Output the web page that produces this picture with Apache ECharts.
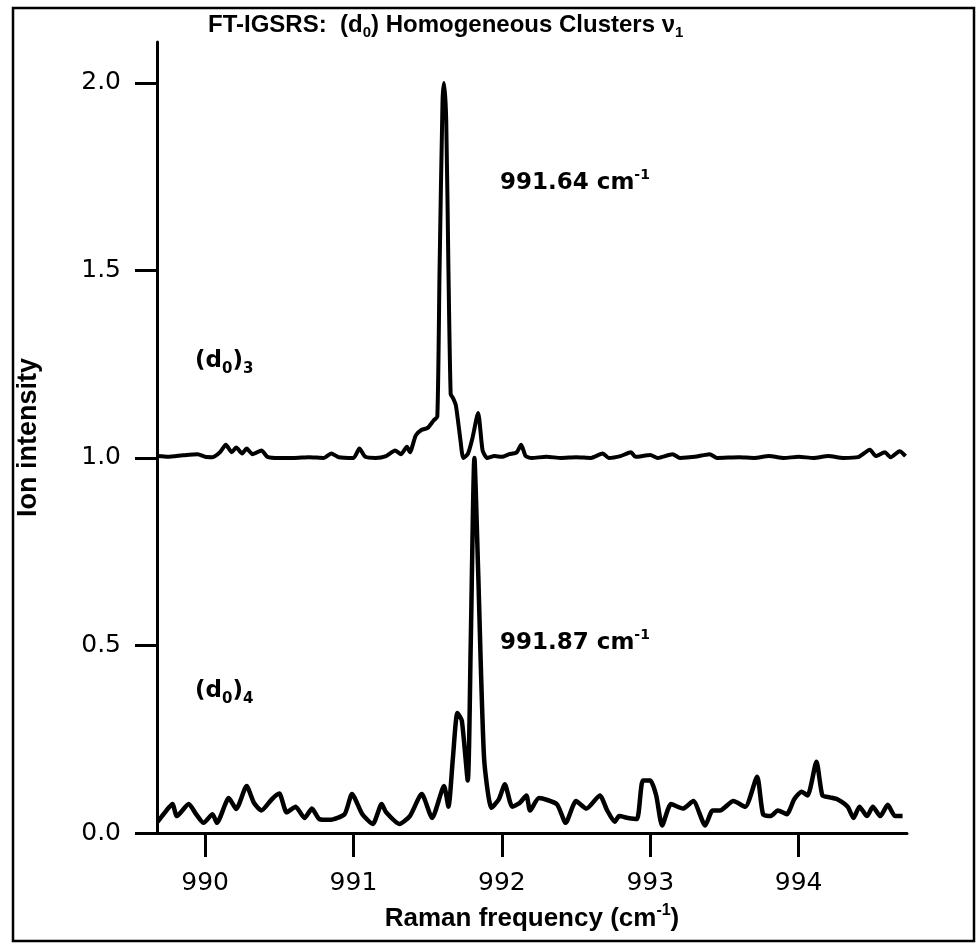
<!DOCTYPE html>
<html>
<head>
<meta charset="utf-8">
<script src="https://cdn.jsdelivr.net/npm/echarts@6/dist/echarts.min.js"></script>
<style>html,body{margin:0;padding:0;background:#fff;}#c{width:979px;height:946px;}</style>
</head>
<body>
<div id="c"></div>
<script>
// ---- data ----
const xTicks = [990, 991, 992, 993, 994];
const yTicks = [0, 0.5, 1.0, 1.5, 2.0];

// (d0)3 trace, offset to 1.0
const topX = [989.68, 989.75, 989.85, 989.95, 990.00, 990.05, 990.10, 990.14, 990.18, 990.21, 990.25, 990.28, 990.32, 990.38, 990.42, 990.50, 990.60, 990.70, 990.80, 990.85, 990.90, 991.00, 991.04, 991.08, 991.15, 991.22, 991.28, 991.32, 991.36, 991.38, 991.42, 991.46, 991.50, 991.54, 991.565, 991.58, 991.60, 991.61, 991.625, 991.64, 991.655, 991.67, 991.69, 991.72, 991.74, 991.77, 991.80, 991.84, 991.87, 991.90, 991.95, 992.00, 992.05, 992.10, 992.13, 992.16, 992.20, 992.30, 992.40, 992.50, 992.60, 992.68, 992.72, 992.80, 992.87, 992.90, 993.00, 993.05, 993.15, 993.20, 993.30, 993.40, 993.45, 993.60, 993.70, 993.80, 993.90, 994.00, 994.10, 994.20, 994.30, 994.40, 994.48, 994.52, 994.58, 994.62, 994.68, 994.72];
const topY = [1.005, 1.003, 1.007, 1.010, 1.003, 1.002, 1.015, 1.035, 1.015, 1.028, 1.012, 1.025, 1.010, 1.020, 1.003, 1.000, 1.000, 1.002, 1.000, 1.012, 1.002, 1.000, 1.025, 1.003, 1.000, 1.005, 1.020, 1.010, 1.030, 1.015, 1.060, 1.075, 1.080, 1.100, 1.110, 1.500, 1.950, 2.000, 1.900, 1.500, 1.170, 1.160, 1.140, 1.050, 1.000, 1.010, 1.050, 1.120, 1.020, 1.000, 1.005, 1.003, 1.010, 1.015, 1.035, 1.005, 1.000, 1.003, 1.000, 1.002, 1.000, 1.012, 1.000, 1.005, 1.015, 1.003, 1.008, 1.000, 1.010, 1.000, 1.003, 1.010, 1.000, 1.002, 1.000, 1.005, 1.000, 1.003, 1.000, 1.005, 1.000, 1.002, 1.022, 1.005, 1.015, 1.002, 1.018, 1.005];

// (d0)4 trace
const botX = [989.68, 989.72, 989.78, 989.81, 989.89, 989.94, 989.99, 990.05, 990.08, 990.16, 990.21, 990.28, 990.33, 990.38, 990.45, 990.50, 990.55, 990.61, 990.67, 990.72, 990.77, 990.84, 990.94, 990.99, 991.06, 991.13, 991.19, 991.22, 991.31, 991.38, 991.46, 991.53, 991.61, 991.64, 991.67, 991.70, 991.73, 991.77, 991.79, 991.815, 991.84, 991.88, 991.93, 991.98, 992.02, 992.07, 992.12, 992.165, 992.19, 992.25, 992.37, 992.43, 992.50, 992.57, 992.66, 992.71, 992.76, 992.79, 992.85, 992.91, 992.95, 993.00, 993.04, 993.08, 993.14, 993.22, 993.29, 993.37, 993.42, 993.47, 993.56, 993.64, 993.72, 993.76, 993.81, 993.86, 993.92, 993.97, 994.02, 994.06, 994.12, 994.16, 994.21, 994.26, 994.33, 994.37, 994.41, 994.46, 994.50, 994.55, 994.60, 994.65, 994.70];
const botY = [0.030, 0.050, 0.077, 0.045, 0.077, 0.050, 0.027, 0.050, 0.027, 0.093, 0.064, 0.125, 0.080, 0.060, 0.090, 0.105, 0.055, 0.070, 0.040, 0.065, 0.037, 0.035, 0.050, 0.104, 0.050, 0.024, 0.077, 0.055, 0.024, 0.045, 0.104, 0.040, 0.125, 0.070, 0.200, 0.320, 0.300, 0.140, 0.500, 1.000, 0.700, 0.200, 0.067, 0.090, 0.130, 0.070, 0.080, 0.100, 0.060, 0.093, 0.077, 0.027, 0.085, 0.065, 0.100, 0.060, 0.030, 0.045, 0.040, 0.037, 0.140, 0.140, 0.100, 0.020, 0.077, 0.065, 0.085, 0.020, 0.060, 0.060, 0.085, 0.070, 0.150, 0.050, 0.045, 0.060, 0.050, 0.090, 0.110, 0.100, 0.190, 0.100, 0.095, 0.090, 0.070, 0.040, 0.070, 0.045, 0.070, 0.045, 0.075, 0.045, 0.045];

const chart = echarts.init(document.getElementById('c'), null, {renderer: 'canvas'});
const pair = (xs, ys) => xs.map((x, i) => [x, ys[i]]);
function ann(txt, left, top) {
  return {
    type: 'text', left: left, top: top,
    style: {
      text: txt, fill: '#000', font: 'bold 23px "DejaVu Sans"',
      rich: {
        n: {fontSize: 23, fontWeight: 'bold', fontFamily: 'DejaVu Sans', lineHeight: 30},
        sub: {fontSize: 15, fontWeight: 'bold', fontFamily: 'DejaVu Sans', verticalAlign: 'bottom', lineHeight: 30, padding: [10, 0, 0, 0]},
        sup: {fontSize: 14, fontWeight: 'bold', fontFamily: 'DejaVu Sans', verticalAlign: 'top', lineHeight: 30, padding: [0, 0, 10, 0]}
      }
    }
  };
}

chart.setOption({
  animation: false,
  backgroundColor: '#fff',
  title: {
    text: '{n|FT-IGSRS:  (d}{sub|0}{n|) Homogeneous Clusters ν}{sub|1}',
    left: 203, top: 5,
    textStyle: {
      rich: {
        n: {fontSize: 24, fontWeight: 'bold', fontFamily: 'Liberation Sans', color: '#000', lineHeight: 30},
        sub: {fontSize: 15, fontWeight: 'bold', fontFamily: 'Liberation Sans', color: '#000', verticalAlign: 'bottom', lineHeight: 30, padding: [10, 0, 0, 0]}
      }
    }
  },
  grid: {left: 157, right: 72, top: 42, bottom: 113, containLabel: false},
  xAxis: {
    type: 'value', min: 989.676, max: 994.73,
    axisLine: {show: true, lineStyle: {color: '#000', width: 3}},
    axisTick: {show: true, length: 24, lineStyle: {color: '#000', width: 3}, customValues: xTicks},
    axisLabel: {color: '#000', fontSize: 25, fontFamily: 'DejaVu Sans', margin: 38, customValues: xTicks, formatter: v => String(v)},
    splitLine: {show: false},
    name: '{n|Raman frequency (cm}{sup|-1}{n|)}',
    nameLocation: 'middle', nameGap: 70,
    nameTextStyle: {
      rich: {
        n: {fontSize: 26, fontFamily: 'Liberation Sans', fontWeight: 'bold', color: '#000', lineHeight: 32},
        sup: {fontSize: 16, fontFamily: 'Liberation Sans', fontWeight: 'bold', color: '#000', verticalAlign: 'top', lineHeight: 32}
      }
    }
  },
  yAxis: {
    type: 'value', min: 0, max: 2.109,
    axisLine: {show: true, onZero: false, lineStyle: {color: '#000', width: 3}},
    axisTick: {show: true, length: 22, lineStyle: {color: '#000', width: 3}, customValues: yTicks},
    axisLabel: {color: '#000', fontSize: 25, fontFamily: 'DejaVu Sans', margin: 36, customValues: yTicks, formatter: v => v.toFixed(1)},
    splitLine: {show: false},
    name: 'Ion intensity', nameLocation: 'middle', nameGap: 115,
    nameTextStyle: {fontSize: 27, fontWeight: 'bold', fontFamily: '"Liberation Sans Narrow", "Liberation Sans"', color: '#000'}
  },
  series: [
    {type: 'line', data: pair(topX, topY), showSymbol: false, smooth: 0.2,
     lineStyle: {color: '#000', width: 4}, z: 3},
    {type: 'line', data: pair(botX, botY), showSymbol: false, smooth: 0.2,
     lineStyle: {color: '#000', width: 4.5}, z: 3}
  ],
  graphic: [
    {type: 'rect', shape: {x: 13, y: 8, width: 961, height: 933}, style: {fill: 'none', stroke: '#000', lineWidth: 2.5}, z: -1},
    ann('{n|991.64 cm}{sup|-1}', 500, 168),
    ann('{n|(d}{sub|0}{n|)}{sub|3}', 195, 350),
    ann('{n|991.87 cm}{sup|-1}', 500, 628),
    ann('{n|(d}{sub|0}{n|)}{sub|4}', 195, 680)
  ]
});
</script>
</body>
</html>
